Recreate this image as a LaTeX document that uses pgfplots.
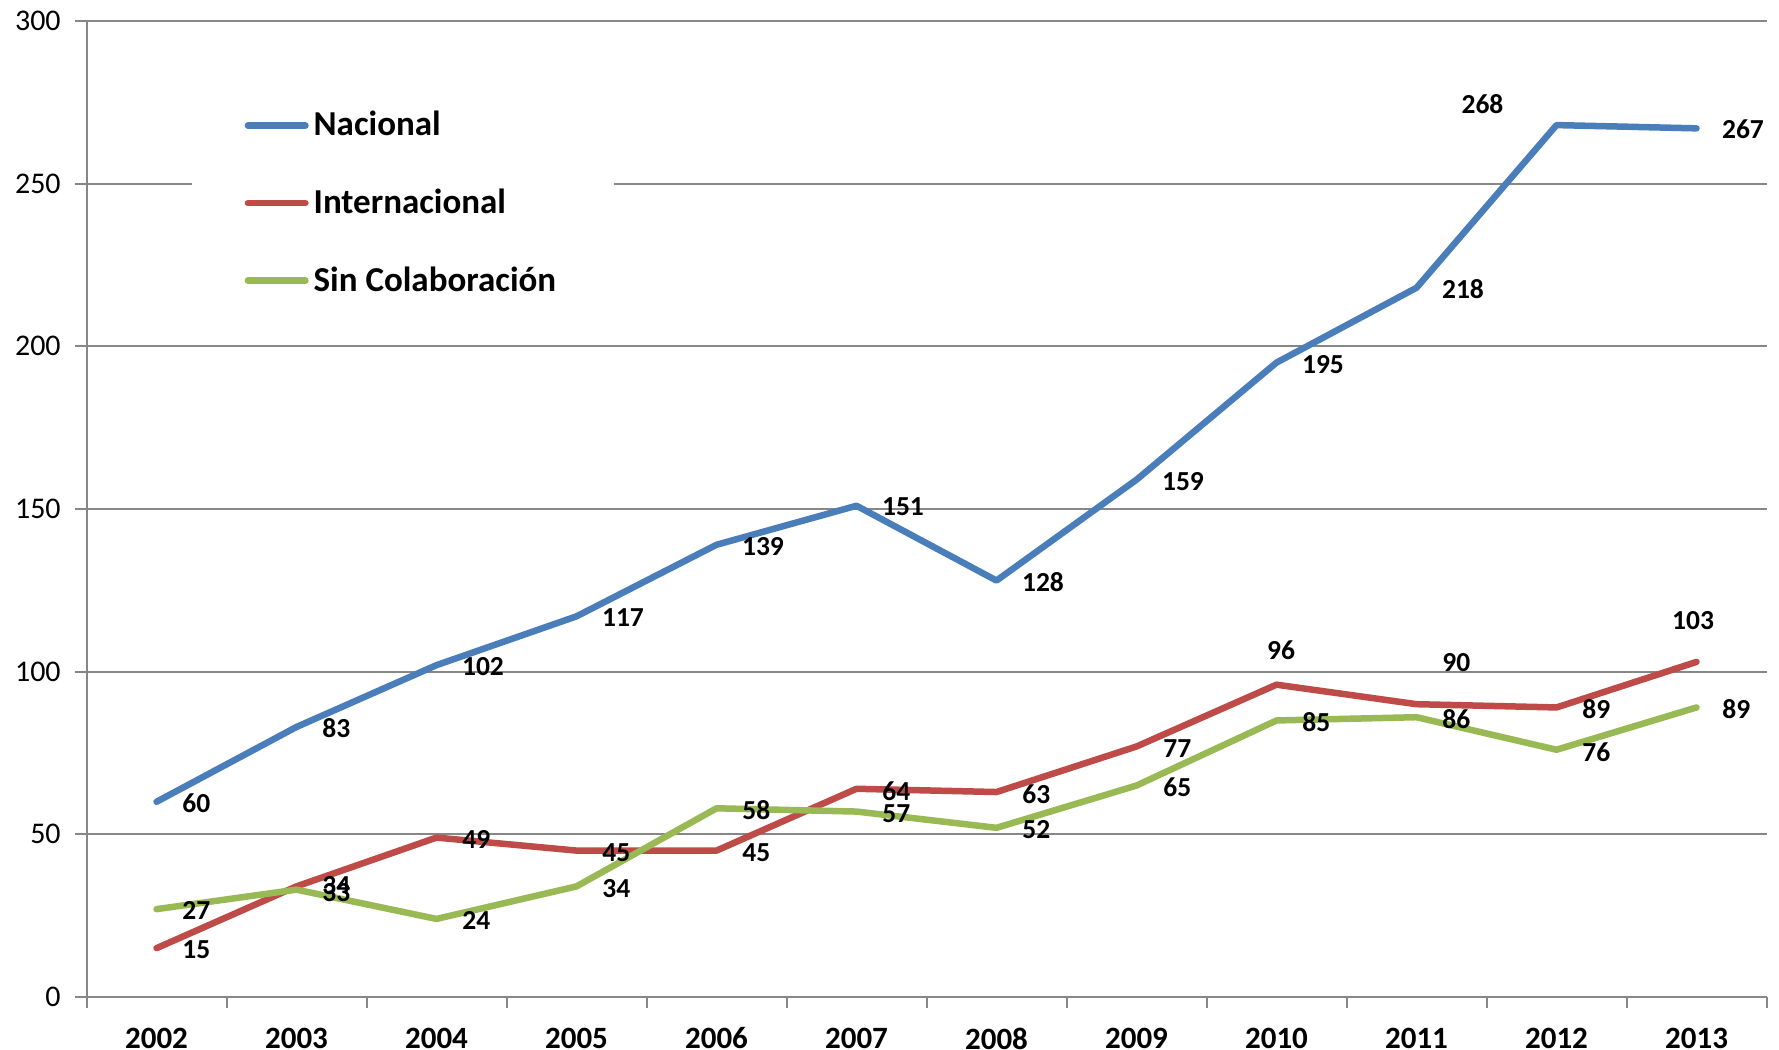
\documentclass[border=0pt]{standalone}
\usepackage{fontspec}
\setmainfont{Carlito}
\usepackage{pgfplots}
\pgfplotsset{compat=1.18}
\usepackage{pgfplotstable}
\definecolor{cblue}{HTML}{4A7EBB}
\definecolor{cred}{HTML}{BE4B48}
\definecolor{cgreen}{HTML}{98B954}
\definecolor{cgrid}{HTML}{878787}

\pgfplotstableread{
x y dx dy
0 60 15.9 -0.6
1 83 15.9 -0.6
2 102 18.6 -0.6
3 117 18.6 -0.6
4 139 18.6 -0.6
5 151 18.6 -0.4
6 128 18.6 -0.6
7 159 18.6 -0.6
8 195 18.6 -0.6
9 218 18.6 -0.6
10 268 -29.6 8.2
11 267 18.6 -0.2
}\nac

\pgfplotstableread{
x y dx dy
0 15 15.9 -0.6
1 34 15.9 0.2
2 49 15.9 -0.8
3 45 15.9 -0.8
4 45 15.9 -0.8
5 64 15.9 -0.8
6 63 15.9 -0.8
7 77 16.3 -0.8
8 96 1.8 13.6
9 90 15.9 16.8
10 89 15.9 -0.8
11 103 -1.4 16.4
}\inter

\pgfplotstableread{
x y dx dy
0 27 15.9 -0.6
1 33 15.9 -1.0
2 24 15.9 -0.8
3 34 15.9 -0.8
4 58 15.9 -0.8
5 57 15.9 -0.8
6 52 15.9 -0.8
7 65 16.3 -0.6
8 85 15.9 -0.6
9 86 15.9 -0.6
10 76 15.9 -0.8
11 89 15.9 -0.6
}\sinc

\pgfplotsset{
  lbl/.style={
    draw=none, forget plot,
    nodes near coords,
    point meta=explicit symbolic,
    visualization depends on={\thisrow{dx}\as\dx},
    visualization depends on={\thisrow{dy}\as\dy},
    every node near coord/.append style={anchor=center, text=black,
      font=\bfseries\fontsize{11}{13}\selectfont,
      xshift=\dx pt, yshift=\dy pt},
  },
}

\begin{document}
\begin{tikzpicture}
\begin{axis}[
  scale only axis,
  width=672pt, height=390.4pt,
  xmin=-0.5, xmax=11.5, ymin=0, ymax=300,
  axis x line*=bottom, axis y line*=left,
  axis line style={cgrid, line width=0.8pt, -},
  xtick={-0.5,0.5,...,11.5},
  xticklabels={,,,,,,,,,,,,,},
  extra x ticks={0,1,...,11},
  extra x tick labels={2002,2003,2004,2005,2006,2007,2008,2009,2010,2011,2012,2013},
  extra x tick style={tick style={draw=none}},
  ytick={0,50,...,300},
  ymajorgrids,
  grid style={cgrid, line width=0.8pt},
  tick align=outside,
  major tick length=4.5pt,
  tick style={cgrid, line width=0.8pt},
  xticklabel style={font=\bfseries\fontsize{12.4}{14}\selectfont, inner ysep=0pt, yshift=-7.6pt},
  yticklabel style={font=\fontsize{12}{14}\selectfont, xshift=-2.3pt},
  /pgf/number format/assume math mode=true,
  clip=false,
  legend style={at={(rel axis cs:0.0623,0.9386)}, anchor=north west,
    draw=none, fill=white, font=\bfseries\fontsize{14}{16}\selectfont,
    inner xsep=21.2pt, inner ysep=10pt, row sep=15.7pt, cells={anchor=west}},
  legend image code/.code={\draw[#1] (0pt,0pt) -- (23pt,0pt);},
]
\addplot[cblue, line width=2.6pt, line join=round, line cap=round] table[x=x, y=y] {\nac};
\addlegendentry{Nacional}
\addplot[cred, line width=2.6pt, line join=round, line cap=round] table[x=x, y=y] {\inter};
\addlegendentry{Internacional}
\addplot[cgreen, line width=2.6pt, line join=round, line cap=round] table[x=x, y=y] {\sinc};
\addlegendentry{Sin Colaboración}
\addplot[lbl] table[x=x, y=y, meta=y] {\nac};
\addplot[lbl] table[x=x, y=y, meta=y] {\inter};
\addplot[lbl] table[x=x, y=y, meta=y] {\sinc};
\coordinate (O) at (rel axis cs:0,0);
\end{axis}
\pgfresetboundingbox
\path[use as bounding box] (O) ++(-34.6pt,-21.2pt) rectangle ++(711.6pt,420pt);
\end{tikzpicture}
\end{document}
